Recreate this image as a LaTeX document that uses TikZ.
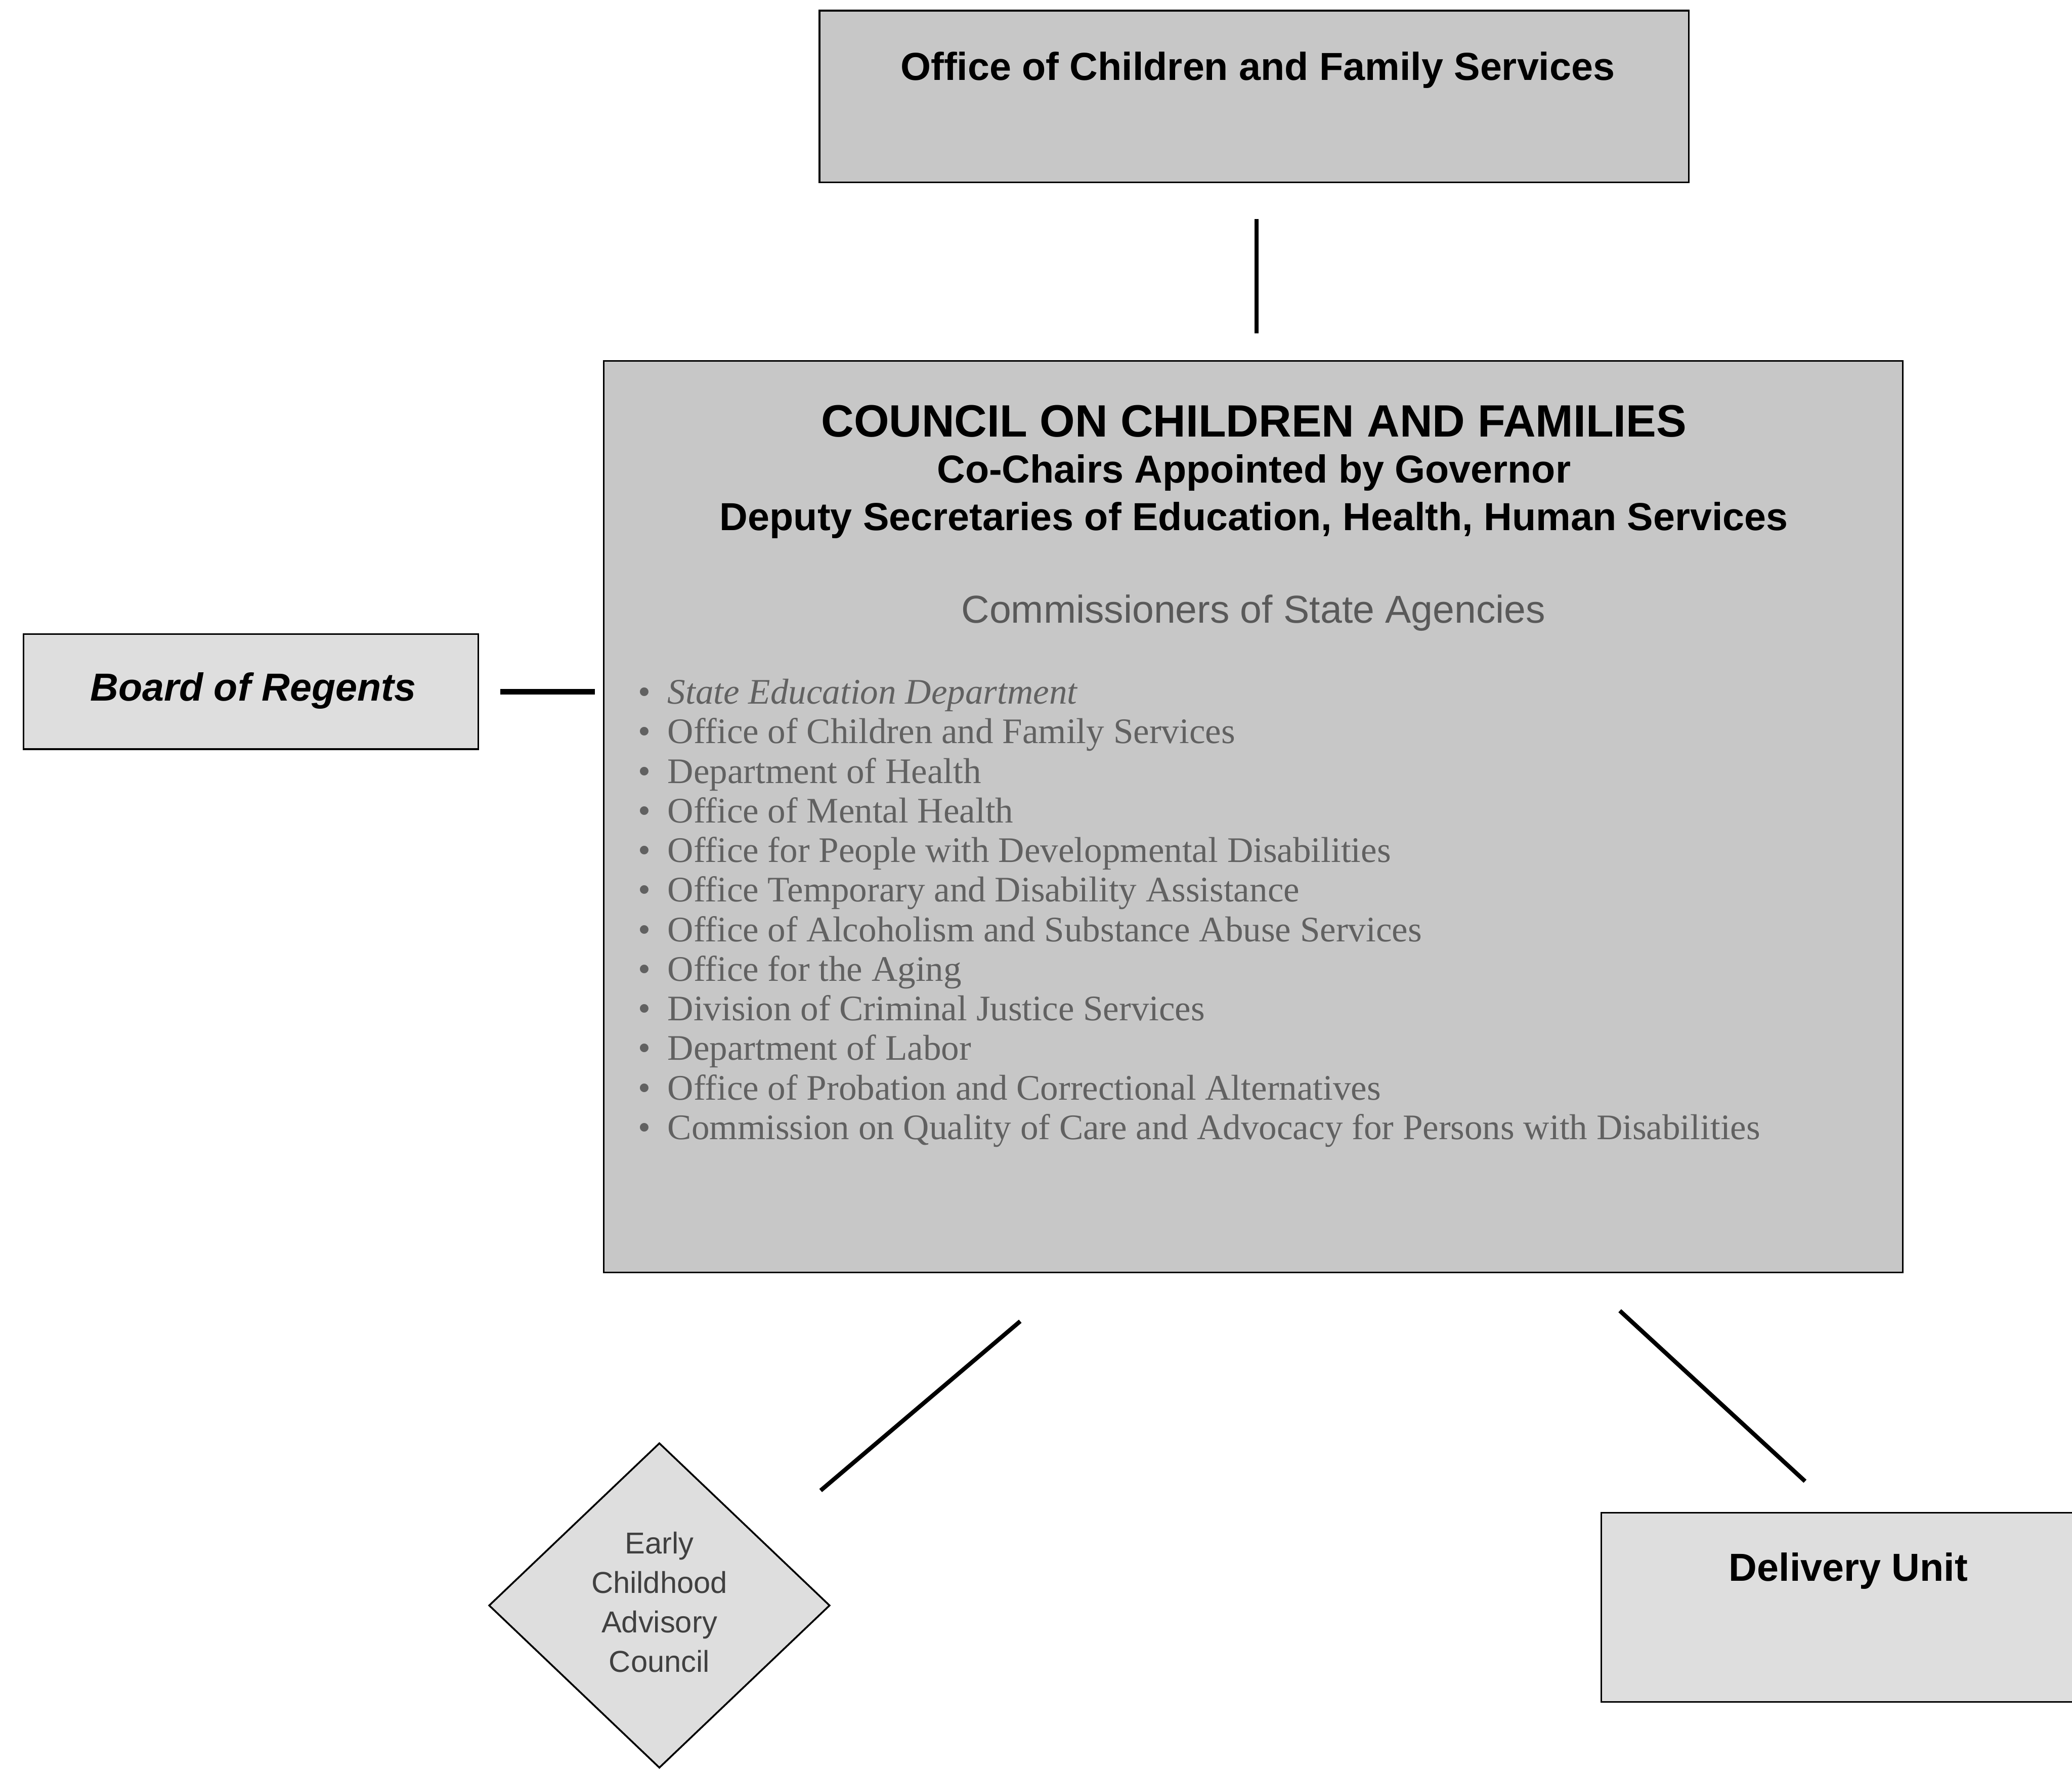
\documentclass[tikz,border=0pt]{standalone}
\usepackage{fontspec}
\setmainfont{Liberation Serif}
\newfontfamily\arial{Liberation Sans}
\usetikzlibrary{shapes.geometric}
\begin{document}
\begin{tikzpicture}[
  box/.style={draw=black, line width=1.2pt, rectangle, inner sep=0pt},
  dense/.style={fill=black!22},
  light/.style={fill=black!13},
  conn/.style={draw=black, line width=0.1cm},
  hdr/.style={font=\arial\bfseries\fontsize{26.4}{30}\selectfont, inner sep=0pt, anchor=base},
  ttl/.style={font=\arial\bfseries\fontsize{30.6}{34}\selectfont, inner sep=0pt, anchor=base},
  sub/.style={font=\arial\fontsize{26.3}{30}\selectfont, text=black!65, inner sep=0pt, anchor=base},
  lst/.style={font=\fontsize{24.3}{28}\selectfont, text=black!62, inner sep=0pt},
]
\useasboundingbox (0,0) rectangle (49.21,-42.10);

% top box
\node[box,dense,minimum width=20.65cm,minimum height=4.08cm] (ocfs) at (29.785,-2.29) {};
\node[hdr] (ocfst) at (29.87,-1.90) {Office of Children and Family Services};

% council box
\node[box,dense,minimum width=30.85cm,minimum height=21.65cm] (ccf) at (29.765,-19.395) {};
\node[ttl] (ccft) at (29.78,-10.37) {COUNCIL ON CHILDREN AND FAMILIES};
\node[hdr] (ccfa) at (29.78,-11.47) {Co-Chairs Appointed by Governor};
\node[hdr] (ccfb) at (29.78,-12.60) {Deputy Secretaries of Education, Health, Human Services};
\node[sub] (ccfc) at (29.77,-14.80) {Commissioners of State Agencies};

\foreach \t [count=\i] in {{\itshape State Education Department},
  Office of Children and Family Services,
  Department of Health,
  Office of Mental Health,
  Office for People with Developmental Disabilities,
  Office Temporary and Disability Assistance,
  Office of Alcoholism and Substance Abuse Services,
  Office for the Aging,
  Division of Criminal Justice Services,
  Department of Labor,
  Office of Probation and Correctional Alternatives,
  Commission on Quality of Care and Advocacy for Persons with Disabilities}{
  \node[lst, anchor=base west] (it\i) at (15.85,{-16.72-0.94*(\i-1)}) {\t};
  \node[lst, anchor=base] (bu\i) at (15.30,{-16.72-0.94*(\i-1)}) {\textbullet};
}

% board of regents
\node[box,light,minimum width=10.8cm,minimum height=2.73cm] (bor) at (5.96,-16.425) {};
\node[hdr, font=\arial\bfseries\itshape\fontsize{26.4}{30}\selectfont] (bort) at (6.01,-16.65) {Board of Regents};

% delivery unit
\node[box,light,minimum width=11.57cm,minimum height=4.49cm] (du) at (43.815,-38.175) {};
\node[hdr] (dut) at (43.90,-37.55) {Delivery Unit};

% early childhood advisory council
\node[draw=black, line width=1.2pt, diamond, light, minimum width=8.10cm, minimum height=7.72cm, inner sep=0pt] (ecac) at (15.66,-38.13) {};
\node[align=center, inner sep=0pt, text=black!75, font=\arial\fontsize{20.4}{26.7}\selectfont] (ecact) at (15.66,-38.05) {Early\\Childhood\\Advisory\\Council};

% connectors
\draw[conn, shorten <=0.85cm, shorten >=0.63cm] ([xshift=0.06cm]ocfs.south) -- ([xshift=0.06cm]ocfs.south |- ccf.north);
\draw[conn, line width=0.13cm, shorten <=0.5cm, shorten >=0.19cm] (bor.east) -- (bor.east -| ccf.west);
\coordinate (d1) at (19.49,-35.40);
\coordinate (d2) at (24.23,-31.38);
\draw[conn] (d1) -- (d2);
\coordinate (u1) at (38.47,-31.13);
\coordinate (u2) at (42.87,-35.18);
\draw[conn] (u1) -- (u2);
\end{tikzpicture}
\end{document}
